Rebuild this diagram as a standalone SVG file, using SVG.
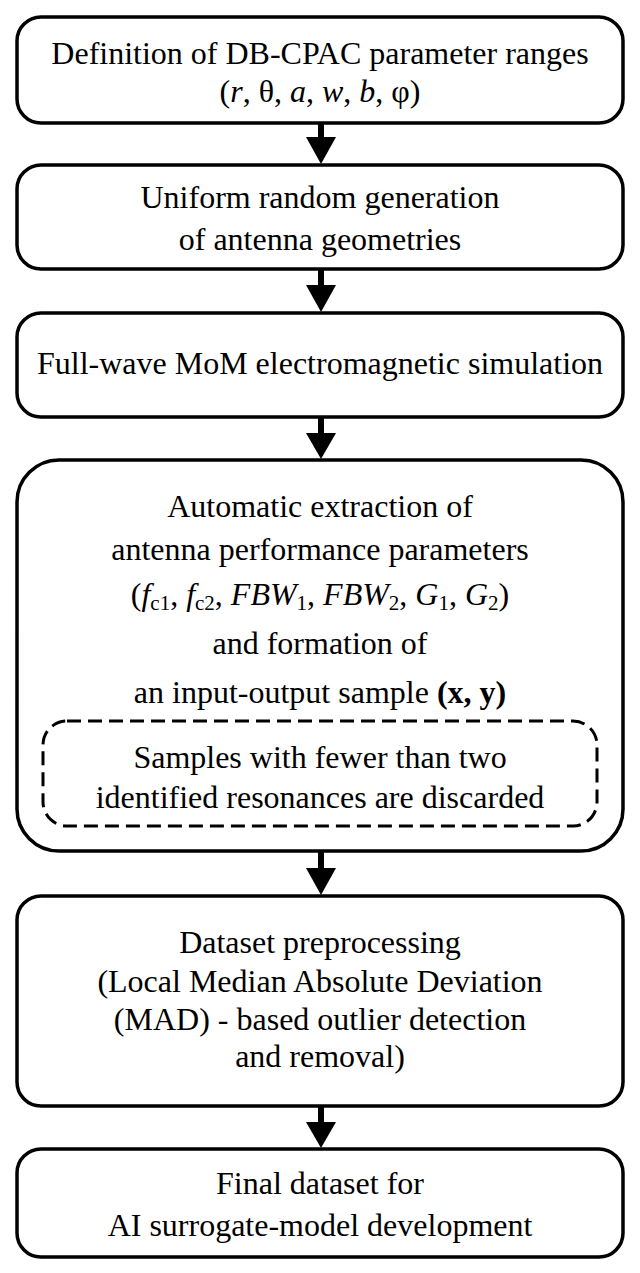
<svg xmlns="http://www.w3.org/2000/svg" width="640" height="1273" viewBox="0 0 640 1273">
<style>
.box{fill:#fff;stroke:#000;stroke-width:3.5}
.dash{fill:none;stroke:#000;stroke-width:3;stroke-dasharray:14 7}
text{font-family:"Liberation Serif","DejaVu Serif",serif;font-size:32px;fill:#000;text-anchor:middle}
.it{font-style:italic}
.sub{font-size:21px;font-style:normal}
.b{font-weight:bold}
.shaft{stroke:#000;stroke-width:6}
.head{fill:#000}
</style>
<g id="connectors">
<line class="shaft" x1="321" y1="123" x2="321" y2="140"/>
<polygon class="head" points="306,137 336,137 321,164"/>
<line class="shaft" x1="321" y1="269" x2="321" y2="288"/>
<polygon class="head" points="306,285 336,285 321,312"/>
<line class="shaft" x1="321" y1="417" x2="321" y2="436"/>
<polygon class="head" points="306,433 336,433 321,459"/>
<line class="shaft" x1="321" y1="851" x2="321" y2="871"/>
<polygon class="head" points="306,868 336,868 321,895"/>
<line class="shaft" x1="321" y1="1106" x2="321" y2="1125"/>
<polygon class="head" points="306,1122 336,1122 321,1148"/>
</g>
<g id="n1">
<rect class="box" x="17" y="17" width="606" height="106" rx="24"/>
<text x="320" y="64">Definition of DB-CPAC parameter ranges</text>
<text x="320" y="102">(<tspan class="it">r</tspan>, θ, <tspan class="it">a</tspan>, <tspan class="it">w</tspan>, <tspan class="it">b</tspan>, φ)</text>
</g>
<g id="n2">
<rect class="box" x="17" y="165" width="606" height="104" rx="24"/>
<text x="320" y="208">Uniform random generation</text>
<text x="320" y="250">of antenna geometries</text>
</g>
<g id="n3">
<rect class="box" x="17" y="313" width="606" height="104" rx="24"/>
<text x="320" y="374">Full-wave MoM electromagnetic simulation</text>
</g>
<g id="n4">
<rect class="box" x="17" y="460" width="606" height="391" rx="42"/>
<text x="320" y="517">Automatic extraction of</text>
<text x="320" y="560">antenna performance parameters</text>
<text x="320" y="605">(<tspan class="it">f</tspan><tspan class="sub" dy="5">c1</tspan><tspan dy="-5">, </tspan><tspan class="it">f</tspan><tspan class="sub" dy="5">c2</tspan><tspan dy="-5">, </tspan><tspan class="it">FBW</tspan><tspan class="sub" dy="5">1</tspan><tspan dy="-5">, </tspan><tspan class="it">FBW</tspan><tspan class="sub" dy="5">2</tspan><tspan dy="-5">, </tspan><tspan class="it">G</tspan><tspan class="sub" dy="5">1</tspan><tspan dy="-5">, </tspan><tspan class="it">G</tspan><tspan class="sub" dy="5">2</tspan><tspan dy="-5">)</tspan></text>
<text x="320" y="654">and formation of</text>
<text x="320" y="703">an input-output sample <tspan class="b">(x, y)</tspan></text>
<g id="n4a">
<rect class="dash" x="43" y="721" width="554" height="105" rx="24"/>
<text x="320" y="768">Samples with fewer than two</text>
<text x="320" y="808">identified resonances are discarded</text>
</g>
</g>
<g id="n5">
<rect class="box" x="17" y="896" width="606" height="210" rx="24"/>
<text x="320" y="953">Dataset preprocessing</text>
<text x="320" y="992">(Local Median Absolute Deviation</text>
<text x="320" y="1030">(MAD) - based outlier detection</text>
<text x="320" y="1067">and removal)</text>
</g>
<g id="n6">
<rect class="box" x="17" y="1149" width="606" height="108" rx="24"/>
<text x="320" y="1194">Final dataset for</text>
<text x="320" y="1236">AI surrogate-model development</text>
</g>
</svg>
